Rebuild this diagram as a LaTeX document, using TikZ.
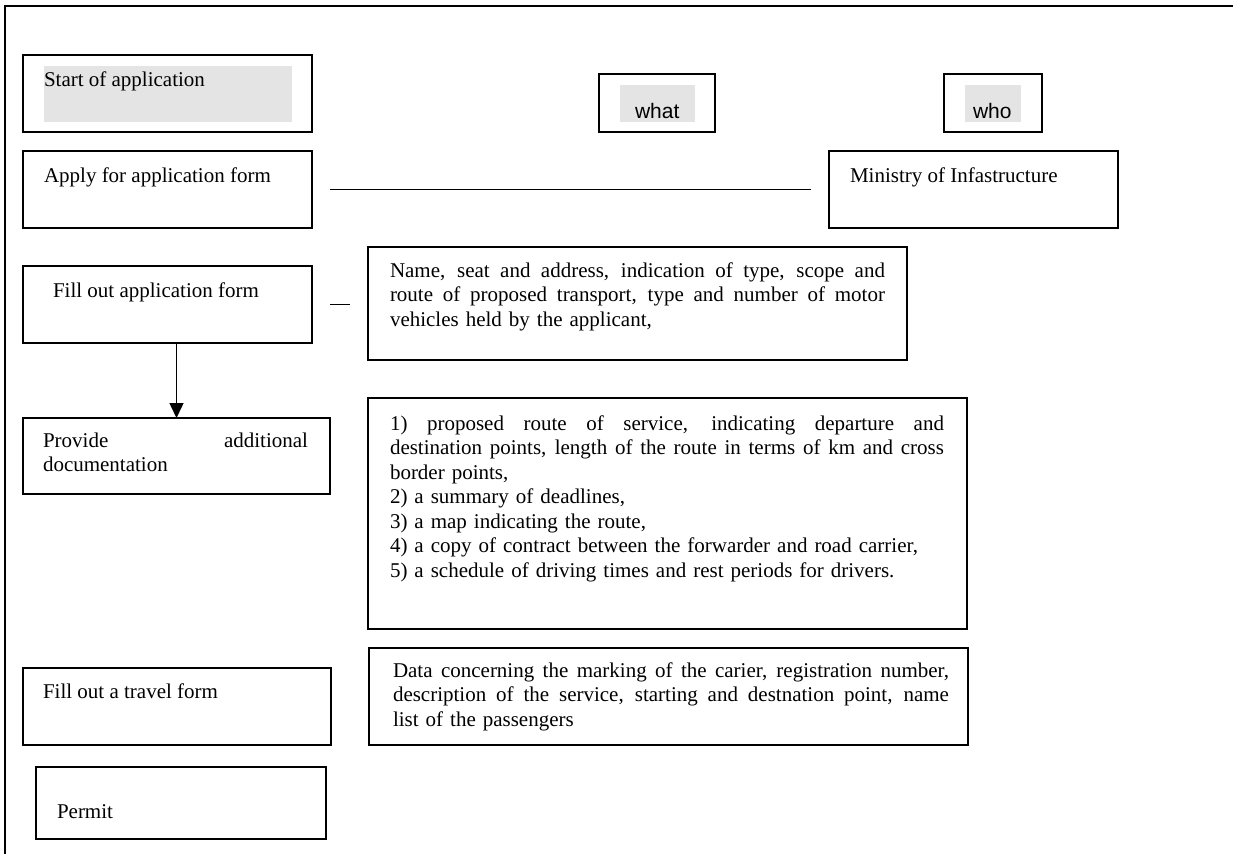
\documentclass[tikz,border=0pt]{standalone}
\usepackage{fontspec}
\setmainfont{Liberation Serif}
\newfontfamily\labelsans{Liberation Sans}
\usetikzlibrary{arrows.meta}
\definecolor{panelgray}{HTML}{E4E4E4}
% a line of text spread to a given width (justified line)
\newcommand\fitline[2]{\makebox[#1][s]{\spaceskip=0pt\xspaceskip=0pt\relax #2}}

\begin{document}
\begin{tikzpicture}[x=1pt,y=-1pt,
  box/.style={draw=black, line width=1.4pt, anchor=north west, inner sep=0pt, outer sep=0pt},
  shade/.style={fill=panelgray, draw=none, anchor=north west, inner sep=0pt, outer sep=0pt},
  txt/.style={inner sep=0pt, outer sep=0pt, anchor=base west, font=\fontsize{21}{24.5}\selectfont},
  para/.style={txt, align=left},
  tag/.style={inner sep=0pt, outer sep=0pt, anchor=base west, font=\labelsans\fontsize{21}{24.5}\selectfont},
  link/.style={line width=1.5pt},
]
\useasboundingbox (0,0) rectangle (1233,854);

% outer frame (left and top edges)
\draw[line width=2.2pt] (5,854) -- (5,6) -- (1233,6);

% header row
\node[box, minimum width=289pt, minimum height=77pt] (start) at (23,55) {};
\node[shade, minimum width=248pt, minimum height=56pt] (startshade) at (44,66) {};
\node[txt] (startT) at (44,86) {Start of application};

\node[box, minimum width=116pt, minimum height=58pt] (what) at (599,74) {};
\node[shade, minimum width=75pt, minimum height=37pt] (whatshade) at (620,85) {};
\node[tag] (whatT) at (635,118) {what};

\node[box, minimum width=98pt, minimum height=58pt] (who) at (944,74) {};
\node[shade, minimum width=56pt, minimum height=37pt] (whoshade) at (965,85) {};
\node[tag] (whoT) at (973,118) {who};

% steps on the left
\node[box, minimum width=289pt, minimum height=77pt] (apply) at (23,151) {};
\node[txt] (applyT) at (44,182) {Apply for application form};

\node[box, minimum width=289pt, minimum height=77pt] (fill) at (23,266) {};
\node[txt] (fillT) at (53,297) {Fill out application form};

\node[box, minimum width=307pt, minimum height=76pt] (provide) at (23,418) {};
\node[para, text width=265pt] (provideT) at (43,447)
  {\fitline{265pt}{Provide additional}\\documentation};

\node[box, minimum width=308pt, minimum height=77pt] (travel) at (23,668) {};
\node[txt] (travelT) at (43,698) {Fill out a travel form};

\node[box, minimum width=290pt, minimum height=72pt] (permit) at (36,767) {};
\node[txt] (permitT) at (57,818) {Permit};

% details on the right
\node[box, minimum width=289pt, minimum height=77pt] (ministry) at (829,151) {};
\node[txt] (ministryT) at (850,182) {Ministry of Infastructure};

\node[box, minimum width=539pt, minimum height=113pt] (name) at (368,247) {};
\node[para, text width=495pt] (nameT) at (390,277)
  {\fitline{495pt}{Name, seat and address, indication of type, scope and}\\
   \fitline{495pt}{route of proposed transport, type and number of motor}\\
   vehicles held by the applicant,};

\node[box, minimum width=599pt, minimum height=231pt] (list) at (368,398) {};
\node[para, text width=554pt] (listT) at (390,430)
  {\fitline{554pt}{1) proposed route of service, indicating departure and}\\
   \fitline{554pt}{destination points, length of the route in terms of km and cross}\\
   border points,\\
   2) a summary of deadlines,\\
   3) a map indicating the route,\\
   4) a copy of contract between the forwarder and road carrier,\\
   5) a schedule of driving times and rest periods for drivers.};

\node[box, minimum width=599pt, minimum height=97pt] (data) at (369,648) {};
\node[para, text width=556pt] (dataT) at (393,677)
  {\fitline{556pt}{Data concerning the marking of the carier, registration number,}\\
   \fitline{556pt}{description of the service, starting and destnation point, name}\\
   list of the passengers};

% connectors
\draw[link] ([xshift=18pt]apply.east) -- ([xshift=-18pt]ministry.west);
\coordinate (dashR) at (fill.east -| name.west);
\draw[link] ([xshift=18pt]fill.east) -- ([xshift=-18pt]dashR);
\coordinate (arrowtop) at (fill.south -| provide.north);
\draw[link, -{Triangle[length=15pt,width=14pt]}] (arrowtop) -- (provide.north);
\end{tikzpicture}
\end{document}
